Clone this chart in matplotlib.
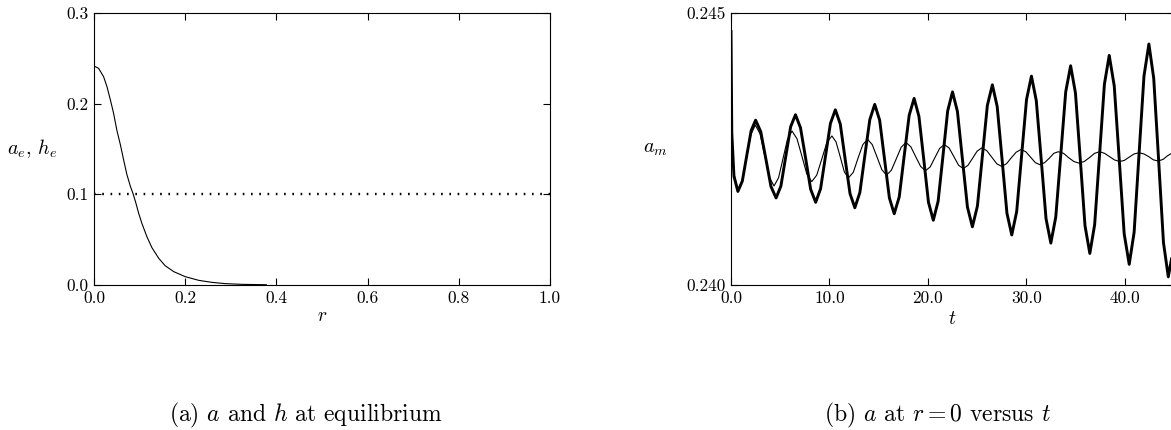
import matplotlib
matplotlib.use("Agg")
import matplotlib.pyplot as plt
from matplotlib.ticker import FormatStrFormatter

plt.rcParams['font.family'] = ['cmr10', 'DejaVu Serif']
plt.rcParams['mathtext.fontset'] = 'cm'
plt.rcParams['axes.formatter.use_mathtext'] = True

# (a) equilibrium profiles
r_a = [0.0, 0.010, 0.021, 0.0285, 0.036, 0.043, 0.050, 0.058, 0.065, 0.072,
       0.080, 0.0855, 0.091, 0.098, 0.105, 0.116, 0.127, 0.142, 0.156, 0.175,
       0.200, 0.230, 0.259, 0.288, 0.325, 0.378]
a_e = [0.2415, 0.2390, 0.2298, 0.2187, 0.2040, 0.1893, 0.1710, 0.1544, 0.1379, 0.1221,
       0.1085, 0.1010, 0.0919, 0.0790, 0.0680, 0.0533, 0.0412, 0.0294, 0.0213, 0.0147,
       0.0092, 0.0051, 0.0029, 0.0015, 0.0007, 0.0003]
r_h = [0.0, 1.0]
h_e = [0.1, 0.1]

# (b) a at r = 0 versus t, growing oscillation (thick)
t_thick = [0.0, 0.08, 0.3, 0.7, 1.15, 1.6, 2.05, 2.5, 3.02, 3.54, 4.06, 4.58,
           5.07, 5.57, 6.06, 6.55, 7.06, 7.58, 8.09, 8.6, 9.1, 9.6, 10.1, 10.6,
           11.1, 11.59, 12.09, 12.58, 13.09, 13.59, 14.1, 14.6, 15.1, 15.59, 16.09, 16.58,
           17.09, 17.59, 18.1, 18.6, 19.09, 19.58, 20.06, 20.55, 21.04, 21.53, 22.01, 22.5,
           23.0, 23.51, 24.02, 24.52, 25.03, 25.54, 26.04, 26.55, 27.04, 27.54, 28.03, 28.52,
           29.02, 29.52, 30.02, 30.52, 31.01, 31.51, 32.0, 32.49, 32.99, 33.5, 34.0, 34.5,
           34.99, 35.48, 35.96, 36.45, 36.94, 37.44, 37.93, 38.42, 38.93, 39.44, 39.94, 40.45,
           40.95, 41.45, 41.95, 42.45, 42.94, 43.44, 43.93, 44.42, 44.75]
a_thick = [0.24466, 0.24280, 0.24200, 0.24172, 0.24191, 0.24238, 0.24284, 0.24303,
           0.24282, 0.24232, 0.24181, 0.24160, 0.24182, 0.24237, 0.24291, 0.24313,
           0.24289, 0.24233, 0.24176, 0.24152, 0.24177, 0.24237, 0.24297, 0.24322,
           0.24296, 0.24232, 0.24168, 0.24142, 0.24170, 0.24237, 0.24304, 0.24332,
           0.24303, 0.24232, 0.24160, 0.24131, 0.24162, 0.24237, 0.24312, 0.24343,
           0.24310, 0.24231, 0.24152, 0.24119, 0.24154, 0.24237, 0.24320, 0.24355,
           0.24319, 0.24231, 0.24143, 0.24107, 0.24145, 0.24238, 0.24330, 0.24368,
           0.24328, 0.24230, 0.24132, 0.24092, 0.24135, 0.24238, 0.24341, 0.24384,
           0.24339, 0.24231, 0.24122, 0.24077, 0.24125, 0.24240, 0.24355, 0.24403,
           0.24353, 0.24231, 0.24109, 0.24058, 0.24111, 0.24240, 0.24369, 0.24422,
           0.24366, 0.24230, 0.24094, 0.24038, 0.24097, 0.24241, 0.24384, 0.24443,
           0.24380, 0.24229, 0.24078, 0.24015, 0.24048]

# decaying oscillation (thin)
t_thin = [0.0, 0.08, 0.3, 0.7, 1.14, 1.59, 2.03, 2.47, 2.95, 3.42, 3.9, 4.37,
          4.83, 5.29, 5.74, 6.2, 6.7, 7.2, 7.7, 8.2, 8.71, 9.23, 9.74, 10.25,
          10.67, 11.09, 11.51, 11.93, 12.42, 12.9, 13.39, 13.87, 14.35, 14.84, 15.32, 15.8,
          16.29, 16.79, 17.28, 17.77, 18.27, 18.76, 19.26, 19.75, 20.23, 20.71, 21.19, 21.67,
          22.15, 22.64, 23.12, 23.6, 24.07, 24.54, 25.0, 25.47, 25.98, 26.49, 26.99, 27.5,
          27.99, 28.48, 28.96, 29.45, 29.94, 30.43, 30.91, 31.4, 31.86, 32.33, 32.79, 33.25,
          33.78, 34.3, 34.83, 35.35, 35.88, 36.4, 36.93, 37.45, 37.95, 38.45, 38.95, 39.45,
          39.95, 40.45, 40.95, 41.45, 41.94, 42.43, 42.91, 43.4, 43.9, 44.3, 44.75]
a_thin = [0.24466, 0.24280, 0.24205, 0.24175, 0.24192, 0.24234, 0.24277, 0.24294,
          0.24278, 0.24238, 0.24198, 0.24182, 0.24197, 0.24233, 0.24268, 0.24283,
          0.24269, 0.24237, 0.24204, 0.24190, 0.24202, 0.24232, 0.24262, 0.24274,
          0.24263, 0.24236, 0.24208, 0.24197, 0.24207, 0.24233, 0.24258, 0.24268,
          0.24258, 0.24235, 0.24212, 0.24202, 0.24211, 0.24232, 0.24253, 0.24262,
          0.24254, 0.24236, 0.24218, 0.24210, 0.24217, 0.24234, 0.24251, 0.24258,
          0.24252, 0.24236, 0.24220, 0.24214, 0.24220, 0.24233, 0.24246, 0.24252,
          0.24247, 0.24235, 0.24223, 0.24218, 0.24223, 0.24234, 0.24244, 0.24249,
          0.24245, 0.24235, 0.24225, 0.24221, 0.24225, 0.24233, 0.24242, 0.24245,
          0.24242, 0.24234, 0.24227, 0.24224, 0.24227, 0.24234, 0.24242, 0.24245,
          0.24242, 0.24236, 0.24230, 0.24227, 0.24229, 0.24235, 0.24241, 0.24243,
          0.24241, 0.24236, 0.24230, 0.24228, 0.24231, 0.24237, 0.24242]

W, H = 1171, 430
fig = plt.figure(figsize=(W / 100, H / 100), dpi=100)

ax1 = fig.add_axes([94 / W, (H - 285) / H, 456 / W, 272 / H])
ax2 = fig.add_axes([731 / W, (H - 285) / H, 443 / W, 272 / H])

ax1.plot(r_a, a_e, color='black', lw=0.8)
ax1.plot(r_h, h_e, color='black', lw=1.7, linestyle=(0, (0.7, 2.8)))
ax1.set_xlim(0, 1.0)
ax1.set_ylim(0, 0.3)
ax1.set_xticks([0.0, 0.2, 0.4, 0.6, 0.8, 1.0])
ax1.set_yticks([0.0, 0.1, 0.2, 0.3])
ax1.xaxis.set_major_formatter(FormatStrFormatter('%.1f'))
ax1.yaxis.set_major_formatter(FormatStrFormatter('%.1f'))
ax1.set_xlabel(r'$r$', fontsize=14, labelpad=1)
ax1.set_ylabel(r'$a_e$, $h_e$', fontsize=14.5, rotation=0, ha='center', va='center')
ax1.yaxis.set_label_coords(-0.135, 0.5)

ax2.plot(t_thin, a_thin, color='black', lw=0.8)
ax2.plot(t_thick, a_thick, color='black', lw=2.1)
ax2.set_xlim(0, 45)
ax2.set_ylim(0.240, 0.245)
ax2.set_xticks([0, 10, 20, 30, 40])
ax2.set_yticks([0.240, 0.245])
ax2.xaxis.set_major_formatter(FormatStrFormatter('%.1f'))
ax2.yaxis.set_major_formatter(FormatStrFormatter('%.3f'))
ax2.set_xlabel(r'$t$', fontsize=14, labelpad=3)
ax2.set_ylabel(r'$a_m$', fontsize=14.5, rotation=0, ha='center', va='center')
ax2.yaxis.set_label_coords(-0.17, 0.5)

for ax in (ax1, ax2):
    ax.tick_params(direction='in', top=True, right=True, length=5, width=0.8,
                   labelsize=12.5, pad=4)
    for s in ax.spines.values():
        s.set_linewidth(0.8)

fig.text(306 / W, 1 - 415 / H, r'(a) $a$ and $h$ at equilibrium', fontsize=17,
         ha='center', va='center')
fig.text(938 / W, 1 - 415 / H, r'(b) $a$ at $r=0$ versus $t$', fontsize=17,
         ha='center', va='center')

fig.savefig('out.png', dpi=100)
